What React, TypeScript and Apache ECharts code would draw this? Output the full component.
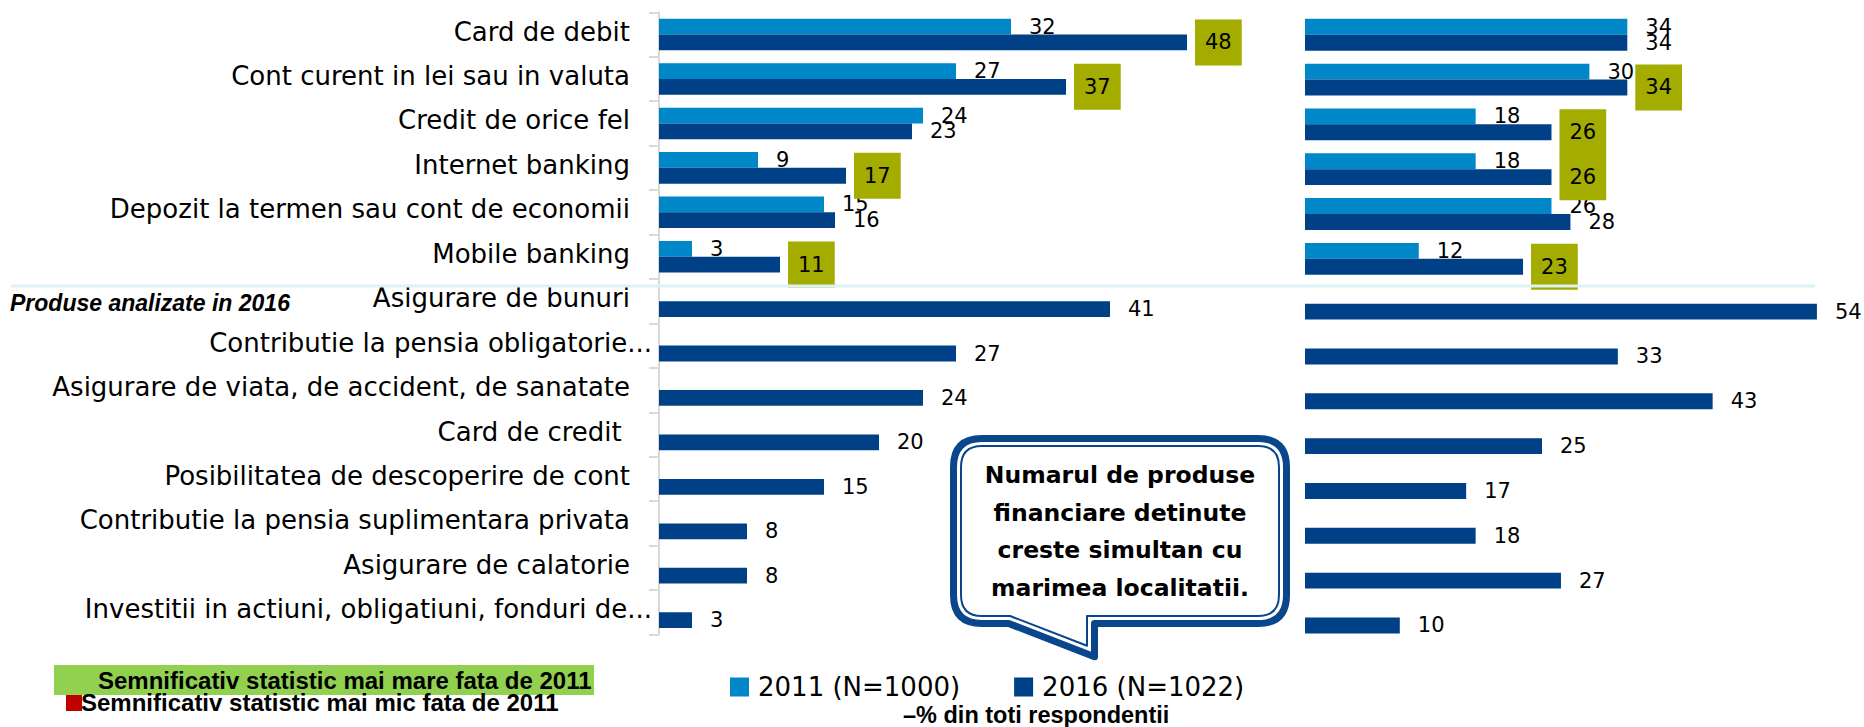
import React, { useEffect, useRef } from 'react';
import * as echarts from 'echarts';

const categories = [
  'Card de debit',
  'Cont curent in lei sau in valuta',
  'Credit de orice fel',
  'Internet banking',
  'Depozit la termen sau cont de economii',
  'Mobile banking',
  'Asigurare de bunuri',
  'Contributie la pensia obligatorie...',
  'Asigurare de viata, de accident, de sanatate',
  'Card de credit ',
  'Posibilitatea de descoperire de cont',
  'Contributie la pensia suplimentara privata',
  'Asigurare de calatorie',
  'Investitii in actiuni, obligatiuni, fonduri de...',
];

const seriesNames = ['2011 (N=1000)', '2016 (N=1022)'];

const left2011 = [32, 27, 24, 9, 15, 3, null, null, null, null, null, null, null, null];
const left2016 = [48, 37, 23, 17, 16, 11, 41, 27, 24, 20, 15, 8, 8, 3];
const leftHigher2016 = [true, true, false, true, false, true, false, false, false, false, false, false, false, false];

const right2011 = [34, 30, 18, 18, 26, 12, null, null, null, null, null, null, null, null];
const right2016 = [34, 34, 26, 26, 28, 23, 54, 33, 43, 25, 17, 18, 27, 10];
const rightHigher2016 = [false, true, true, true, false, true, false, false, false, false, false, false, false, false];

const sectionLabel = 'Produse analizate in 2016';
const noteHigher = 'Semnificativ statistic mai mare fata de 2011';
const noteLower = 'Semnificativ statistic mai mic fata de 2011';
const baseNote = '–% din toti respondentii';
const calloutLines = ['Numarul de produse', 'financiare detinute', 'creste simultan cu', 'marimea localitatii.'];

const C2011 = '#0087c7';
const C2016 = '#004086';
const OLIVE = '#a4ac00';
const NAVY = '#0a468c';
const FONT = 'DejaVu Sans';
const ARIAL = 'Liberation Sans';

function bubblePath(d: number) {
  const x0 = 950 + d, y0 = 435 + d, x1 = 1290 - d, y1 = 627 - d, r = 32 - d;
  const tailL = 1008 + 0.19 * d, tailR = 1098 - d, tipY = 662 - 1.48 * d;
  return `M${x0 + r} ${y0} L${x1 - r} ${y0} Q${x1} ${y0} ${x1} ${y0 + r} L${x1} ${y1 - r} Q${x1} ${y1} ${x1 - r} ${y1} L${tailR} ${y1} L${tailR} ${tipY} L${tailL} ${y1} L${x0 + r} ${y1} Q${x0} ${y1} ${x0} ${y1 - r} L${x0} ${y0 + r} Q${x0} ${y0} ${x0 + r} ${y0} Z`;
}

let registered = false;
function registerShapes() {
  if (registered) return;
  registered = true;
  echarts.graphic.registerShape('bubbleOuter', echarts.graphic.extendPath(bubblePath(3.5), {}));
  echarts.graphic.registerShape('bubbleInner', echarts.graphic.extendPath(bubblePath(11), {}));
}

const valueLabel = {
  show: true,
  position: 'right',
  distance: 18,
  color: '#000',
  fontFamily: FONT,
  fontSize: 21,
};

const boxLabel = {
  show: true,
  position: 'right',
  distance: 8,
  color: '#000',
  fontFamily: FONT,
  fontSize: 21,
  lineHeight: 22,
  backgroundColor: OLIVE,
  padding: [12, 10, 12, 10],
};

function withBoxes(values: number[], higher: boolean[]) {
  return values.map((v, i) => (higher[i] ? { value: v, label: boxLabel } : v));
}

export default function App() {
  const ref = useRef<HTMLDivElement>(null);

  useEffect(() => {
    if (!ref.current) return;
    registerShapes();
    const chart = echarts.init(ref.current, null, { renderer: 'svg' });

    const barCommon = {
      type: 'bar',
      barGap: '0%',
      barCategoryGap: '29%',
      label: valueLabel,
    };

    const option = {
      animation: false,
      backgroundColor: '#ffffff',
      textStyle: { fontFamily: FONT },
      grid: [
        { left: 659, top: 12.3, width: 550, height: 622.2 },
        { left: 1305, top: 12.3, width: 521.4, height: 627.6 },
      ],
      xAxis: [
        { gridIndex: 0, type: 'value', min: 0, max: 50, show: false, splitLine: { show: false } },
        { gridIndex: 1, type: 'value', min: 0, max: 55, show: false, splitLine: { show: false } },
      ],
      yAxis: [
        {
          gridIndex: 0,
          type: 'category',
          data: categories,
          inverse: true,
          axisLine: { show: true, lineStyle: { color: '#d9d9d9', width: 2 } },
          axisTick: { show: true, length: 10, lineStyle: { color: '#d9d9d9', width: 2 } },
          axisLabel: {
            margin: 7,
            color: '#000',
            fontFamily: FONT,
            fontSize: 26,
            formatter: (v: string) => (v.endsWith('...') ? `{t|${v}}` : `{n|${v}}`),
            rich: {
              n: { fontFamily: FONT, fontSize: 26, color: '#000', padding: [0, 22, 6, 0] },
              t: { fontFamily: FONT, fontSize: 26, color: '#000', padding: [0, 0, 6, 0] },
            },
          },
        },
        { gridIndex: 1, type: 'category', data: categories, inverse: true, show: false },
      ],
      legend: {
        data: seriesNames,
        left: 730,
        top: 674,
        padding: 0,
        itemWidth: 19,
        itemHeight: 19,
        itemGap: 54,
        icon: 'rect',
        textStyle: { fontFamily: FONT, fontSize: 26, color: '#000', padding: [0, 0, 0, 4] },
      },
      series: [
        { ...barCommon, name: seriesNames[0], xAxisIndex: 0, yAxisIndex: 0, data: left2011, itemStyle: { color: C2011 } },
        { ...barCommon, name: seriesNames[1], xAxisIndex: 0, yAxisIndex: 0, data: withBoxes(left2016, leftHigher2016), itemStyle: { color: C2016 } },
        { ...barCommon, name: seriesNames[0], xAxisIndex: 1, yAxisIndex: 1, data: right2011, itemStyle: { color: C2011 } },
        { ...barCommon, name: seriesNames[1], xAxisIndex: 1, yAxisIndex: 1, data: withBoxes(right2016, rightHigher2016), itemStyle: { color: C2016 } },
      ],
      graphic: [
        { type: 'line', z: 100, shape: { x1: 11, y1: 286, x2: 1815, y2: 286 }, style: { stroke: '#dcf2f7', lineWidth: 3 } },
        {
          type: 'text', x: 10, y: 303,
          style: { text: sectionLabel, fill: '#000', fontFamily: ARIAL, fontSize: 23, fontWeight: 'bold', fontStyle: 'italic', verticalAlign: 'middle', align: 'left' },
        },
        { type: 'rect', shape: { x: 54, y: 665, width: 540, height: 30 }, style: { fill: '#92d050' } },
        {
          type: 'text', x: 98, y: 680,
          style: { text: noteHigher, fill: '#000', fontFamily: ARIAL, fontSize: 24, fontWeight: 'bold', verticalAlign: 'middle', align: 'left' },
        },
        { type: 'rect', shape: { x: 66, y: 695, width: 16, height: 16 }, style: { fill: '#c00000' } },
        {
          type: 'text', x: 81, y: 702, z: 5,
          style: { text: noteLower, fill: '#000', fontFamily: ARIAL, fontSize: 24, fontWeight: 'bold', verticalAlign: 'middle', align: 'left' },
        },
        {
          type: 'text', x: 903, y: 715,
          style: { text: baseNote, fill: '#000', fontFamily: ARIAL, fontSize: 23.5, fontWeight: 'bold', verticalAlign: 'middle', align: 'left' },
        },
        { type: 'bubbleOuter', x: 0, y: 0, z: 10, style: { fill: '#ffffff', stroke: NAVY, lineWidth: 7, lineJoin: 'round' } },
        { type: 'bubbleInner', x: 0, y: 0, z: 11, style: { fill: 'none', stroke: NAVY, lineWidth: 2, lineJoin: 'round' } },
        {
          type: 'text', x: 1120, y: 531.5, z: 12,
          style: {
            text: calloutLines.join('\n'), fill: '#000', fontFamily: FONT, fontSize: 23.5, fontWeight: 'bold',
            lineHeight: 37.7, align: 'center', verticalAlign: 'middle',
          },
        },
      ],
    };

    chart.setOption(option as any);
    return () => chart.dispose();
  }, []);

  return <div ref={ref} style={{ position: 'absolute', left: 0, top: 0, width: 1864, height: 727 }} />;
}
